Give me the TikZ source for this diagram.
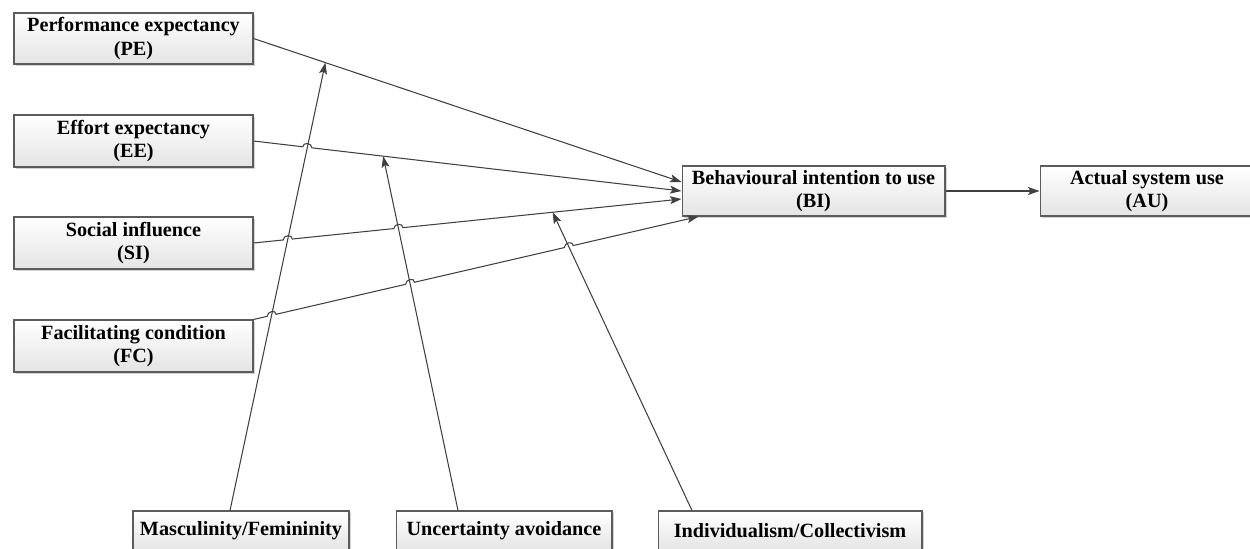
\documentclass[tikz,border=0pt]{standalone}
\usepackage{fontspec}
\setmainfont{Liberation Serif}
\usetikzlibrary{arrows.meta,calc,shadows}
\definecolor{linecol}{HTML}{404040}
\definecolor{boxborder}{HTML}{5C5C5C}
\definecolor{boxbot}{HTML}{E4E4E4}
\begin{document}
\begin{tikzpicture}[x=0.02cm,y=-0.02cm,
  box/.style={draw=boxborder, line width=0.6pt, top color=white, bottom color=boxbot,
    align=center, inner sep=0pt, font=\fontsize{11.5}{13.5}\selectfont\bfseries,
    drop shadow={shadow xshift=1.1pt, shadow yshift=-1.1pt, fill=black!35, opacity=0.5}},
  conn/.style={draw=linecol, line width=0.6pt},
  arr/.style={conn, -{Stealth[length=2.3mm,width=1.6mm,inset=0.5mm]}, fill=none},
]
\useasboundingbox (0,0) rectangle (1250,548);

% left constructs
\node[box, minimum width=4.78cm, minimum height=1.02cm] (PE) at (133.5,38.5) {Performance expectancy\\(PE)};
\node[box, minimum width=4.78cm, minimum height=1.04cm] (EE) at (133.5,141) {Effort expectancy\\(EE)};
\node[box, minimum width=4.78cm, minimum height=1.04cm] (SI) at (133.5,243) {Social influence\\(SI)};
\node[box, minimum width=4.78cm, minimum height=1.04cm] (FC) at (133.5,346) {Facilitating condition\\(FC)};

% right constructs
\node[box, minimum width=5.26cm, minimum height=1.0cm] (BI) at (813.5,191) {Behavioural intention to use\\(BI)};
\node[box, minimum width=4.28cm, minimum height=1.0cm] (AU) at (1147,191) {Actual system use\\(AU)};

% moderators (cut by the bottom edge)
\node[box, minimum width=4.32cm, minimum height=0.8cm] (MF) at (241,531) {Masculinity/Femininity};
\node[box, minimum width=4.32cm, minimum height=0.8cm] (UA) at (504,531) {Uncertainty avoidance};
\node[box, minimum width=5.28cm, minimum height=0.8cm] (IC) at (790,531) {Individualism/Collectivism};

% line end points
\coordinate (peS) at (PE.east);
\coordinate (peE) at ($(BI.west)+(0,-9)$);
\coordinate (eeS) at (EE.east);
\coordinate (eeE) at ($(BI.west)+(0,0)$);
\coordinate (siS) at (SI.east);
\coordinate (siE) at ($(BI.west)+(0,8)$);
\coordinate (fcS) at (FC.north east);
\coordinate (fcE) at ($(BI.south west)+(17,0)$);

\coordinate (muS) at ($(MF.north)+(-11,0)$);
\coordinate (muE) at ($(peS)!0.168!(peE)$);
\coordinate (uaS) at ($(UA.north)+(-46,0)$);
\coordinate (uaE) at ($(eeS)!0.303!(eeE)$);
\coordinate (icS) at ($(IC.north)+(-98,0)$);
\coordinate (icE) at ($(siS)!0.699!(siE)$);

% crossings
\coordinate (h1) at (intersection of eeS--eeE and muS--muE);
\coordinate (h2) at (intersection of siS--siE and muS--muE);
\coordinate (h3) at (intersection of siS--siE and uaS--uaE);
\coordinate (h4) at (intersection of fcS--fcE and muS--muE);
\coordinate (h5) at (intersection of fcS--fcE and uaS--uaE);
\coordinate (h6) at (intersection of fcS--fcE and icS--icE);

% moderator arrows
\draw[arr] (muS) -- (muE);
\draw[arr] (uaS) -- (uaE);
\draw[arr] (icS) -- (icE);

% main paths
\draw[arr] (peS) -- (peE);
\draw[arr] (eeS) -- ($(h1)!2.6pt!(eeS)$) .. controls +(0,-5) and +(0,-5) .. ($(h1)!2.6pt!(eeE)$) -- (eeE);
\draw[arr] (siS) -- ($(h2)!2.6pt!(siS)$) .. controls +(0,-5) and +(0,-5) .. ($(h2)!2.6pt!(siE)$)
  -- ($(h3)!2.6pt!(siS)$) .. controls +(0,-5) and +(0,-5) .. ($(h3)!2.6pt!(siE)$) -- (siE);
\draw[arr] (fcS) -- ($(h4)!2.6pt!(fcS)$) .. controls +(0,-5) and +(0,-5) .. ($(h4)!2.6pt!(fcE)$)
  -- ($(h5)!2.6pt!(fcS)$) .. controls +(0,-5) and +(0,-5) .. ($(h5)!2.6pt!(fcE)$)
  -- ($(h6)!2.6pt!(fcS)$) .. controls +(0,-5) and +(0,-5) .. ($(h6)!2.6pt!(fcE)$) -- (fcE);
\draw[arr] (BI.east) -- (AU.west);
\end{tikzpicture}
\end{document}
